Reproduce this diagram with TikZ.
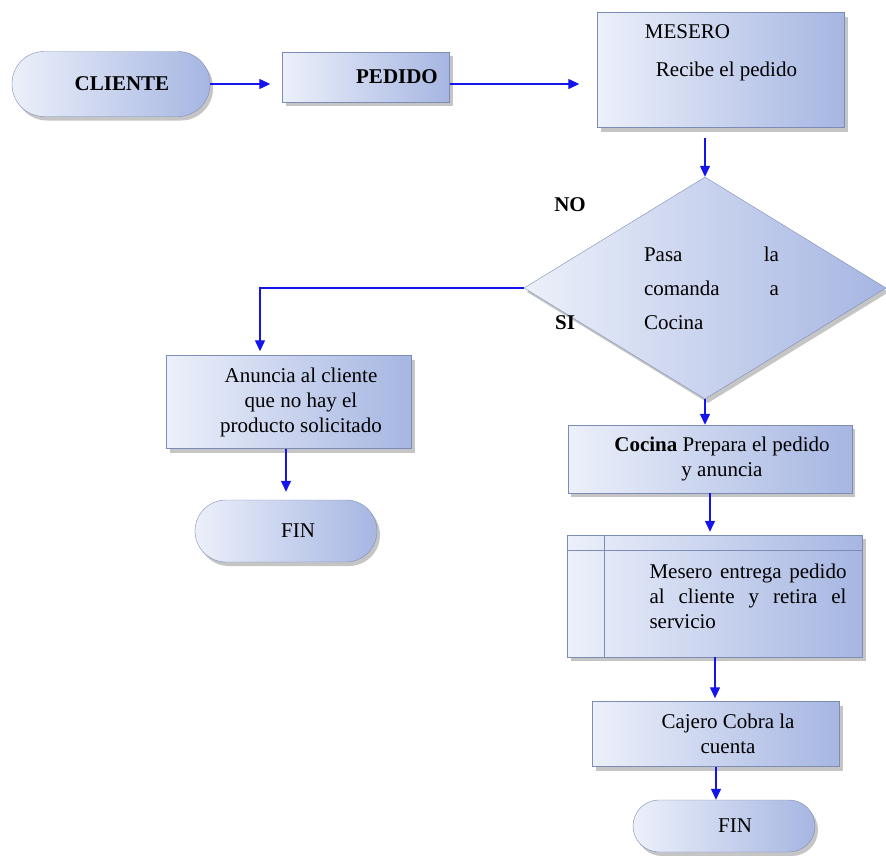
\documentclass[tikz,border=0pt]{standalone}
\usepackage{fontspec}
\setmainfont{Liberation Serif}
\usepackage{xcolor}
\usepackage{tikz}
\usetikzlibrary{shapes.geometric, arrows.meta, positioning, shadows}
\definecolor{BoxLight}{RGB}{236,240,250}
\definecolor{BoxDark}{RGB}{166,182,226}
\definecolor{BoxLine}{RGB}{125,140,180}
\definecolor{FlowBlue}{RGB}{20,20,235}

\begin{document}
\begin{tikzpicture}[
    x=1pt, y=-1pt,
    font=\fontsize{21}{25}\selectfont,
    box/.style={rectangle, draw=BoxLine, left color=BoxLight, right color=BoxDark,
                drop shadow={shadow xshift=3pt, shadow yshift=-4pt, fill=black!45},
                inner sep=0pt, align=center},
    pill/.style={box, rounded corners=#1},
    lbl/.style={font=\fontsize{21}{25}\selectfont\bfseries},
    arr/.style={-{Triangle[length=11pt, width=10pt]}, line width=1.3pt, FlowBlue}
]
\useasboundingbox (0,0) rectangle (886,855);
\node[pill=32pt, minimum width=198, minimum height=65] (cliente) at (111,84) {\hspace*{22pt}\textbf{CLIENTE}};
\node[box, minimum width=167, minimum height=50] (pedido) at (366,77) {\hspace*{62pt}\textbf{PEDIDO}};
\node[box, minimum width=247, minimum height=115, align=left] (mesero) at (721,70)
    {MESERO\\[13pt]\hspace*{11pt}Recibe el pedido\\[13pt]\mbox{}};
\node[box, diamond, aspect=1.63, minimum width=362, minimum height=222, align=left,
      text width=148pt, font=\fontsize{21}{34}\selectfont] (pasa) at (705,288)
    {\hspace*{13pt}Pasa\hfill la\\\hspace*{13pt}comanda\hfill a\\\hspace*{13pt}Cocina};
\node[lbl] (no) at (570,205) {NO};
\node[lbl] (si) at (565,323) {SI};
\node[box, minimum width=245, minimum height=93] (anuncia) at (289,402)
    {\hspace*{24pt}Anuncia al cliente\\\hspace*{24pt}que no hay el\\\hspace*{24pt}producto solicitado};
\node[pill=31pt, minimum width=182, minimum height=62] (finA) at (286,531) {\hspace*{24pt}FIN};
\node[box, minimum width=284, minimum height=68] (cocina) at (710,459)
    {\hspace*{24pt}\textbf{Cocina} Prepara el pedido\\\hspace*{24pt}y anuncia};
\node[box, minimum width=295, minimum height=122] (entrega) at (715,596)
    {\hspace*{66pt}\parbox{197pt}{Mesero entrega pedido\linebreak al cliente y retira el\linebreak servicio}};
\node[box, minimum width=247, minimum height=65] (cajero) at (716,734)
    {\hspace*{24pt}Cajero Cobra la\\\hspace*{24pt}cuenta};
\node[pill=26pt, minimum width=182, minimum height=52] (finB) at (724,826) {\hspace*{22pt}FIN};
\draw[BoxLine] ([xshift=37pt]entrega.north west) -- ([xshift=37pt]entrega.south west);
\draw[BoxLine] ([yshift=-15pt]entrega.north west) -- ([yshift=-15pt]entrega.north east);
\draw[arr, shorten >=12pt] (cliente.east) -- (cliente.east -| pedido.west);
\draw[arr, shorten >=18pt] (pedido.east |- cliente.east) -- (cliente.east -| mesero.west);
\draw[arr, shorten <=10pt] (mesero.south -| pasa.north) -- (pasa.north);
\draw[arr, shorten >=4pt] (pasa.west) -| ([xshift=-29pt]anuncia.north);
\draw[arr] (pasa.south) -- (pasa.south |- cocina.north);
\draw[arr, shorten >=8pt] (anuncia.south -| finA.north) -- (finA.north);
\draw[arr, shorten >=3pt] (cocina.south) -- (cocina.south |- entrega.north);
\draw[arr, shorten >=3pt] (entrega.south) -- (entrega.south |- cajero.north);
\draw[arr] (cajero.south) -- (cajero.south |- finB.north);
\end{tikzpicture}
\end{document}
